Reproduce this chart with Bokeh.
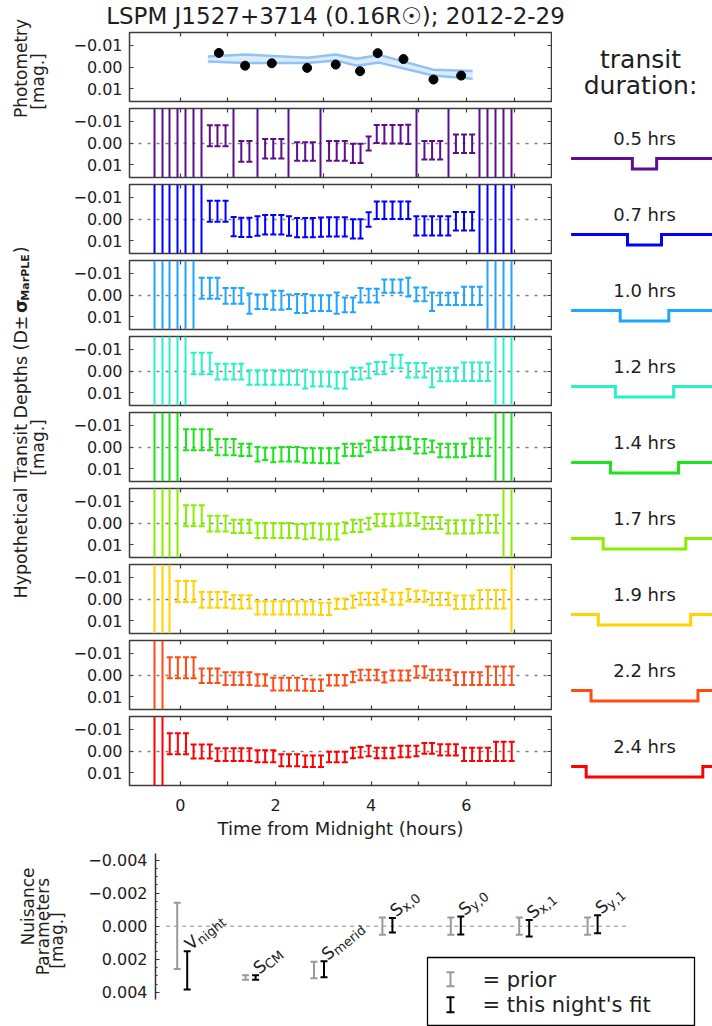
import math
from bokeh.plotting import figure
from bokeh.layouts import column, row
from bokeh.models import Range1d, LinearAxis, FixedTicker, CustomJSTickFormatter, Label
from bokeh.embed import file_html
from bokeh.resources import INLINE
from bokeh.core.properties import value

N = None
# ------------------------------------------------------------------ data
title_text = "LSPM J1527+3714 (0.16R\u2609); 2012-2-29"

phot_time = [0.81, 1.36, 1.92, 2.66, 3.26, 3.77, 4.14, 4.68, 5.31, 5.89]
phot_mag = [-0.0064, -0.0006, -0.0017, 0.0004, -0.0011, 0.0019, -0.0063, -0.0036, 0.0057, 0.0039]
band_time = [0.58, 1.36, 2.67, 3.26, 3.70, 4.17, 5.30, 6.13]
band_upper = [-0.0048, -0.0057, -0.0042, -0.0057, -0.0038, -0.0055, 0.0012, 0.0018]
band_lower = [-0.0025, -0.0018, -0.0018, -0.0030, -0.0006, -0.0020, 0.0039, 0.0054]

times = [-0.55, -0.38, -0.22, -0.05, 0.12, 0.28, 0.45, 0.62, 0.78, 0.95,
         1.12, 1.28, 1.45, 1.62, 1.78, 1.95, 2.12, 2.28, 2.45, 2.62,
         2.78, 2.95, 3.12, 3.28, 3.45, 3.62, 3.78, 3.95, 4.12, 4.28,
         4.45, 4.62, 4.78, 4.95, 5.12, 5.28, 5.45, 5.62, 5.78, 5.95,
         6.12, 6.28, 6.45, 6.62, 6.78, 6.95]

durations = [0.5, 0.7, 1.0, 1.2, 1.4, 1.7, 1.9, 2.2, 2.4]
colors = ["#5c0e8c", "#0000ff", "#1ea5ff", "#28f0c8", "#19e619",
          "#88ee00", "#ffd200", "#ff4b14", "#ff0000"]

# depth (None = unconstrained) and 1-sigma half-length, one pair per duration
depth_05 = [N, N, N, N, N, N, N, -0.0033, -0.0033, -0.0033,
            N, 0.0038, 0.0038, N, 0.0026, 0.0026, 0.0026, N, 0.0039, 0.0039,
            0.0039, N, 0.0036, 0.0036, 0.0036, 0.0047, 0.0047, 0.0002, -0.0041, -0.0040,
            -0.0040, -0.0040, -0.0039, N, 0.0033, 0.0033, 0.0033, N, 0.0003, 0.0003,
            0.0003, N, N, N, N, N]
err_05 = [N, N, N, N, N, N, N, 0.0048, 0.0048, 0.0048,
          N, 0.0047, 0.0047, N, 0.0044, 0.0044, 0.0044, N, 0.0042, 0.0042,
          0.0042, N, 0.0045, 0.0045, 0.0045, 0.0044, 0.0044, 0.0032, 0.0041, 0.0042,
          0.0042, 0.0042, 0.0044, N, 0.0042, 0.0042, 0.0042, N, 0.0042, 0.0042,
          0.0042, N, N, N, N, N]

depth_07 = [N, N, N, N, N, N, N, -0.0035, -0.0035, -0.0035,
            0.0035, 0.0038, 0.0038, 0.0032, 0.0026, 0.0026, 0.0026, 0.0032, 0.0039, 0.0039,
            0.0039, 0.0037, 0.0036, 0.0036, 0.0036, 0.0045, 0.0045, 0.0002, -0.0040, -0.0040,
            -0.0040, -0.0040, -0.0040, 0.0031, 0.0031, 0.0031, 0.0031, 0.0031, 0.0010, 0.0010,
            0.0010, N, N, N, N, N]
err_07 = [N, N, N, N, N, N, N, 0.0048, 0.0048, 0.0048,
          0.0044, 0.0044, 0.0044, 0.0044, 0.0044, 0.0044, 0.0044, 0.0044, 0.0044, 0.0044,
          0.0044, 0.0044, 0.0044, 0.0044, 0.0044, 0.0044, 0.0044, 0.0033, 0.0040, 0.0040,
          0.0040, 0.0040, 0.0040, 0.0044, 0.0044, 0.0044, 0.0044, 0.0044, 0.0042, 0.0042,
          0.0042, N, N, N, N, N]

depth_10 = [N, N, N, N, N, N, -0.0031, -0.0031, -0.0031, 0.0004,
            0.0004, 0.0004, 0.0039, 0.0031, 0.0031, 0.0024, 0.0024, 0.0031, 0.0039, 0.0039,
            0.0037, 0.0037, 0.0037, 0.0037, 0.0045, 0.0045, 0.0001, 0.0003, 0.0003, -0.0040,
            -0.0040, -0.0040, -0.0036, -0.0003, -0.0003, 0.0031, 0.0018, 0.0018, 0.0018, 0.0004,
            0.0004, 0.0004, N, N, N, N]
err_10 = [N, N, N, N, N, N, 0.0048, 0.0048, 0.0048, 0.0036,
          0.0036, 0.0036, 0.0046, 0.0033, 0.0033, 0.0043, 0.0043, 0.0033, 0.0043, 0.0043,
          0.0036, 0.0036, 0.0036, 0.0048, 0.0034, 0.0034, 0.0033, 0.0031, 0.0031, 0.0030,
          0.0030, 0.0030, 0.0043, 0.0031, 0.0031, 0.0042, 0.0028, 0.0028, 0.0028, 0.0042,
          0.0042, 0.0042, N, N, N, N]

depth_12 = [N, N, N, N, N, -0.0034, -0.0034, -0.0034, 0.0003, 0.0003,
            0.0003, 0.0003, 0.0030, 0.0030, 0.0030, 0.0030, 0.0030, 0.0030, 0.0030, 0.0037,
            0.0037, 0.0037, 0.0037, 0.0043, 0.0043, 0.0012, 0.0012, 0.0000, -0.0013, -0.0013,
            -0.0043, -0.0043, -0.0003, -0.0003, -0.0003, 0.0031, 0.0016, 0.0016, 0.0016, 0.0003,
            0.0003, 0.0003, 0.0003, N, N, N]
err_12 = [N, N, N, N, N, 0.0049, 0.0049, 0.0049, 0.0036, 0.0036,
          0.0036, 0.0036, 0.0033, 0.0033, 0.0033, 0.0033, 0.0033, 0.0033, 0.0033, 0.0043,
          0.0034, 0.0034, 0.0034, 0.0037, 0.0037, 0.0027, 0.0027, 0.0033, 0.0028, 0.0028,
          0.0031, 0.0031, 0.0033, 0.0033, 0.0033, 0.0043, 0.0031, 0.0031, 0.0031, 0.0042,
          0.0042, 0.0042, 0.0042, N, N, N]

depth_14 = [N, N, N, N, -0.0033, -0.0033, -0.0033, -0.0033, 0.0001, 0.0001,
            0.0001, 0.0013, 0.0013, 0.0033, 0.0031, 0.0036, 0.0033, 0.0033, 0.0033, 0.0039,
            0.0039, 0.0040, 0.0040, 0.0040, 0.0013, 0.0013, 0.0013, -0.0003, -0.0015, -0.0015,
            -0.0015, -0.0019, -0.0019, -0.0003, -0.0003, -0.0003, 0.0016, 0.0016, 0.0016, 0.0016,
            0.0001, 0.0001, 0.0001, N, N, N]
err_14 = [N, N, N, N, 0.0048, 0.0048, 0.0048, 0.0048, 0.0037, 0.0037,
          0.0037, 0.0028, 0.0028, 0.0033, 0.0028, 0.0033, 0.0033, 0.0033, 0.0033, 0.0033,
          0.0033, 0.0034, 0.0034, 0.0034, 0.0028, 0.0028, 0.0028, 0.0027, 0.0030, 0.0030,
          0.0030, 0.0028, 0.0028, 0.0033, 0.0033, 0.0027, 0.0031, 0.0031, 0.0031, 0.0031,
          0.0040, 0.0040, 0.0040, N, N, N]

depth_17 = [N, N, N, N, -0.0033, -0.0033, -0.0033, 0.0003, 0.0003, 0.0003,
            0.0015, 0.0015, 0.0015, 0.0034, 0.0034, 0.0034, 0.0034, 0.0034, 0.0037, 0.0040,
            0.0034, 0.0039, 0.0039, 0.0039, 0.0022, 0.0013, 0.0013, 0.0003, -0.0013, -0.0013,
            -0.0013, -0.0016, -0.0016, -0.0016, 0.0000, 0.0000, 0.0000, 0.0018, 0.0018, 0.0018,
            0.0018, 0.0004, 0.0004, 0.0004, N, N]
err_17 = [N, N, N, N, 0.0048, 0.0048, 0.0048, 0.0036, 0.0036, 0.0036,
          0.0030, 0.0030, 0.0030, 0.0034, 0.0034, 0.0034, 0.0034, 0.0034, 0.0031, 0.0034,
          0.0034, 0.0036, 0.0036, 0.0036, 0.0025, 0.0028, 0.0028, 0.0027, 0.0028, 0.0028,
          0.0028, 0.0028, 0.0028, 0.0028, 0.0027, 0.0027, 0.0027, 0.0030, 0.0030, 0.0030,
          0.0030, 0.0040, 0.0040, 0.0040, N, N]

depth_19 = [N, N, N, -0.0034, -0.0034, -0.0034, 0.0004, 0.0004, 0.0004, 0.0004,
            0.0013, 0.0013, 0.0013, 0.0040, 0.0040, 0.0040, 0.0040, 0.0040, 0.0040, 0.0040,
            0.0040, 0.0045, 0.0045, 0.0022, 0.0022, 0.0012, -0.0001, -0.0001, -0.0001, -0.0015,
            -0.0001, -0.0001, -0.0018, -0.0012, -0.0012, 0.0000, 0.0000, 0.0000, 0.0015, 0.0015,
            0.0015, 0.0001, 0.0001, 0.0001, 0.0001, N]
err_19 = [N, N, N, 0.0048, 0.0048, 0.0048, 0.0036, 0.0036, 0.0036, 0.0036,
          0.0030, 0.0030, 0.0030, 0.0030, 0.0030, 0.0030, 0.0030, 0.0030, 0.0030, 0.0030,
          0.0030, 0.0028, 0.0028, 0.0024, 0.0024, 0.0028, 0.0027, 0.0027, 0.0027, 0.0028,
          0.0027, 0.0027, 0.0028, 0.0025, 0.0025, 0.0028, 0.0028, 0.0028, 0.0031, 0.0031,
          0.0031, 0.0042, 0.0042, 0.0042, 0.0042, N]

depth_22 = [N, N, -0.0033, -0.0033, -0.0033, -0.0033, 0.0003, 0.0003, 0.0003, 0.0017,
            0.0017, 0.0017, 0.0017, 0.0023, 0.0023, 0.0041, 0.0041, 0.0041, 0.0041, 0.0045,
            0.0047, 0.0047, 0.0024, 0.0024, 0.0024, 0.0009, 0.0000, 0.0000, 0.0000, 0.0011,
            0.0002, 0.0002, 0.0002, -0.0014, -0.0014, 0.0000, 0.0000, 0.0000, 0.0017, 0.0017,
            0.0017, 0.0017, 0.0003, 0.0003, 0.0003, 0.0003]
err_22 = [N, N, 0.0048, 0.0048, 0.0048, 0.0048, 0.0033, 0.0033, 0.0033, 0.0029,
          0.0029, 0.0029, 0.0029, 0.0026, 0.0026, 0.0029, 0.0029, 0.0029, 0.0029, 0.0027,
          0.0026, 0.0026, 0.0024, 0.0024, 0.0024, 0.0024, 0.0024, 0.0024, 0.0024, 0.0023,
          0.0023, 0.0023, 0.0023, 0.0026, 0.0026, 0.0024, 0.0024, 0.0024, 0.0029, 0.0029,
          0.0029, 0.0029, 0.0042, 0.0042, 0.0042, 0.0042]

depth_24 = [N, N, -0.0033, -0.0033, -0.0033, 0.0002, 0.0002, 0.0002, 0.0017, 0.0017,
            0.0017, 0.0017, 0.0017, 0.0024, 0.0024, 0.0024, 0.0042, 0.0042, 0.0042, 0.0047,
            0.0047, 0.0047, 0.0027, 0.0027, 0.0027, 0.0009, 0.0006, 0.0000, 0.0009, 0.0009,
            0.0009, 0.0002, 0.0002, 0.0000, -0.0012, -0.0012, -0.0005, -0.0005, -0.0005, 0.0015,
            0.0015, 0.0015, 0.0015, 0.0002, 0.0002, 0.0002]
err_24 = [N, N, 0.0048, 0.0048, 0.0048, 0.0032, 0.0032, 0.0032, 0.0029, 0.0029,
          0.0029, 0.0029, 0.0029, 0.0027, 0.0027, 0.0027, 0.0027, 0.0027, 0.0027, 0.0026,
          0.0026, 0.0026, 0.0024, 0.0024, 0.0024, 0.0024, 0.0024, 0.0024, 0.0024, 0.0024,
          0.0024, 0.0026, 0.0026, 0.0024, 0.0024, 0.0024, 0.0026, 0.0026, 0.0026, 0.0030,
          0.0030, 0.0030, 0.0030, 0.0044, 0.0044, 0.0044]

all_depths = [depth_05, depth_07, depth_10, depth_12, depth_14, depth_17, depth_19, depth_22, depth_24]
all_errs = [err_05, err_07, err_10, err_12, err_14, err_17, err_19, err_22, err_24]

nuis_main = ["V", "S", "S", "S", "S", "S", "S"]
nuis_sub = ["night", "CM", "merid", "x,0", "y,0", "x,1", "y,1"]
prior_val = [0.00058, 0.0031, 0.00265, 0.0, 0.0, 0.0, 0.0]
prior_err = [0.0020, 0.00014, 0.0005, 0.00052, 0.00052, 0.00052, 0.00052]
fit_val = [0.00267, 0.0031, 0.0026, -0.00006, -0.00004, 0.00012, -0.00012]
fit_err = [0.00116, 0.00014, 0.00048, 0.00044, 0.00054, 0.0005, 0.00054]

# ------------------------------------------------------------------ style
FONT = "DejaVu Sans"
INK = "#1e1e1e"
FRAME = "#3c3c3c"
XMIN, XMAX = -1.064, 7.784
YLIM = 0.0157
PANEL_W = 482
ROW_H = 76


def bare(fig):
    fig.outline_line_color = None
    fig.grid.visible = False
    fig.background_fill_color = "white"
    fig.border_fill_color = "white"
    return fig


def text_fig(w, h, x0, x1, ytop, ybot):
    f = figure(width=w, height=h, x_range=Range1d(x0, x1), y_range=Range1d(ybot, ytop),
               output_backend="svg", toolbar_location=None,
               x_axis_location=None, y_axis_location=None, min_border=0)
    return bare(f)


def tick_style(ax):
    ax.axis_line_color = None
    ax.major_tick_in = 4
    ax.major_tick_out = 0
    ax.minor_tick_in = 4
    ax.minor_tick_out = 0
    ax.major_tick_line_color = FRAME
    ax.minor_tick_line_color = FRAME
    ax.major_tick_line_width = 1.2
    ax.minor_tick_line_width = 1.2
    ax.major_label_text_font = FONT
    ax.major_label_text_font_size = "16px"
    ax.major_label_text_color = INK


def hide_labels(ax):
    ax.formatter = CustomJSTickFormatter(code="return ''")
    ax.major_label_standoff = 0


YFMT = CustomJSTickFormatter(code="""
  if (Math.abs(tick) < 1e-9) { return '0.00'; }
  return (tick < 0 ? '\u2212' : '') + Math.abs(tick).toFixed(2);
""")


def make_panel(height, bottom_border, xlabels):
    p = figure(width=PANEL_W, height=height, x_range=Range1d(XMIN, XMAX),
               y_range=Range1d(YLIM, -YLIM), output_backend="svg", toolbar_location=None,
               x_axis_location=None, y_axis_location=None,
               min_border_left=51, min_border_right=1, min_border_top=1,
               min_border_bottom=bottom_border)
    p.grid.visible = False
    p.outline_line_color = FRAME
    p.outline_line_width = 1.5
    p.background_fill_color = "white"
    p.border_fill_color = "white"
    for loc in ("left", "right"):
        ax = LinearAxis(ticker=FixedTicker(ticks=[-0.01, 0.0, 0.01]))
        tick_style(ax)
        if loc == "left":
            ax.formatter = YFMT
            ax.major_label_standoff = 7
        else:
            hide_labels(ax)
        p.add_layout(ax, loc)
    for loc in ("below", "above"):
        ax = LinearAxis(ticker=FixedTicker(ticks=[0, 2, 4, 6], minor_ticks=[1, 3, 5, 7]))
        tick_style(ax)
        if loc == "below" and xlabels:
            ax.major_label_standoff = 13
            ax.axis_label = "Time from Midnight (hours)"
            ax.axis_label_text_font = FONT
            ax.axis_label_text_font_size = "18px"
            ax.axis_label_text_font_style = "normal"
            ax.axis_label_text_color = INK
            ax.axis_label_standoff = 4
        else:
            hide_labels(ax)
        p.add_layout(ax, loc)
    return p


# ------------------------------------------------------------------ title (page origin at 0,0)
title_fig = text_fig(642, 31, 70, 712, 0, 31)
title_fig.text(x=[335], y=[15], text=[title_text], text_align="center",
               text_baseline="middle", text_font=value(FONT), text_font_size="23px",
               text_color=INK)

# ------------------------------------------------------------------ photometry panel
panels = []
ph = make_panel(ROW_H, 6, False)
ph.varea(x=band_time, y1=band_upper, y2=band_lower, fill_color="#dcecfd", fill_alpha=1.0)
ph.line(x=band_time, y=band_upper, line_color="#8fc3f7", line_width=2.5)
ph.line(x=band_time, y=band_lower, line_color="#8fc3f7", line_width=2.5)
ph.scatter(x=phot_time, y=phot_mag, size=9, marker="circle", fill_color="black", line_color="black")
panels.append(ph)

# ------------------------------------------------------------------ transit panels
for i, (dep, err, col) in enumerate(zip(all_depths, all_errs, colors)):
    last = i == len(all_depths) - 1
    p = make_panel(ROW_H + (59 if last else 0), 65 if last else 6, last)
    p.hspan(y=[0], line_color="#808080", line_dash="3 6", line_width=1.3)
    bx = [t for t, d in zip(times, dep) if d is not None]
    lo = [d - e for d, e in zip(dep, err) if d is not None]
    hi = [d + e for d, e in zip(dep, err) if d is not None]
    free = [t for t, d in zip(times, dep) if d is None]
    p.segment(x0=bx, y0=lo, x1=bx, y1=hi, line_color=col, line_width=2)
    p.scatter(x=bx + bx, y=lo + hi, marker="dash", size=6, line_color=col, line_width=2)
    if free:
        p.vspan(x=free, line_color=col, line_width=2)
    panels.append(p)

# ------------------------------------------------------------------ left labels (page coords)
left = text_fig(70, 850, 0, 70, 0, 850)
rot = math.pi / 2
left.text(x=[20.5], y=[68], text=["Photometry"], angle=rot, text_align="center",
          text_baseline="middle", text_font=value(FONT), text_font_size="17px", text_color=INK)
left.text(x=[37.5], y=[81], text=["[mag.]"], angle=rot, text_align="center",
          text_baseline="middle", text_font=value(FONT), text_font_size="17px", text_color=INK)
# Hypothetical Transit Depths (D±σ_MarPLE) composed bottom-to-top
FS = 17.5
y_start = 598.0
w1 = 16.32 * FS
left.text(x=[20.5], y=[y_start], text=["Hypothetical Transit Depths (D\u00b1"], angle=rot,
          text_align="left", text_baseline="middle", text_font=value(FONT),
          text_font_size="%.1fpx" % FS, text_color=INK)
left.text(x=[20.5], y=[y_start - w1], text=["\u03c3"], angle=rot, text_align="left",
          text_baseline="middle", text_font=value(FONT), text_font_size="%.1fpx" % FS,
          text_font_style="bold", text_color=INK)
w2 = 0.70 * FS
left.text(x=[25.0], y=[y_start - w1 - w2], text=["MarPLE"], angle=rot, text_align="left",
          text_baseline="middle", text_font=value(FONT), text_font_size="11px",
          text_font_style="bold", text_color=INK)
w3 = 4.3 * 11
left.text(x=[20.5], y=[y_start - w1 - w2 - w3], text=[")"], angle=rot, text_align="left",
          text_baseline="middle", text_font=value(FONT), text_font_size="%.1fpx" % FS,
          text_color=INK)
left.text(x=[37.5], y=[447], text=["[mag.]"], angle=rot, text_align="center",
          text_baseline="middle", text_font=value(FONT), text_font_size="17px", text_color=INK)

# ------------------------------------------------------------------ right column
right_figs = []
head = text_fig(160, ROW_H, 552, 712, 31, 31 + ROW_H)
head.text(x=[640, 640], y=[59, 85], text=["transit", "duration:"], text_align="center",
          text_baseline="middle", text_font=value(FONT), text_font_size="25px", text_color=INK)
right_figs.append(head)
ICON_PX = 10.5
for d, col in zip(durations, colors):
    f = figure(width=160, height=ROW_H, x_range=Range1d((552 - 644) / 48.6, (712 - 644) / 48.6),
               y_range=Range1d(-(ROW_H - 51) / ICON_PX, 51 / ICON_PX),
               output_backend="svg", toolbar_location=None,
               x_axis_location=None, y_axis_location=None, min_border=0)
    bare(f)
    f.line(x=[-1.51, -d / 2, -d / 2, d / 2, d / 2, 1.6], y=[0, 0, -1, -1, 0, 0],
           line_color=col, line_width=3, line_join="miter")
    f.text(x=[0], y=[(51 - 30.5) / ICON_PX], text=["%.1f hrs" % d], text_align="center",
           text_baseline="middle", text_font=value(FONT), text_font_size="18px", text_color=INK)
    right_figs.append(f)

top_block = row(left, column(title_fig, row(column(panels), column(right_figs))))

# ------------------------------------------------------------------ nuisance panel
# main ranges are page pixels (isotropic, for rotated labels and the legend box);
# the data are drawn on extra ranges: parameter index (x) and magnitude (y)
NX0, NDX = 181.7, 68.4
NY0, NDY = 925.7, 16550.0


def nx(px):
    return (px - NX0) / NDX


def ny(py):
    return (py - NY0) / NDY


nleft = text_fig(83, 176, 0, 83, 850, 1026)
nleft.text(x=[27, 42, 56], y=[906, 926, 940], text=["Nuisance", "Parameters", "[mag.]"],
           angle=rot, text_align="center", text_baseline="middle", text_font=value(FONT),
           text_font_size="17px", text_color=INK)

nui = figure(width=629, height=176, x_range=Range1d(155, 712), y_range=Range1d(1026, 850),
             output_backend="svg", toolbar_location=None,
             x_axis_location=None, y_axis_location=None,
             min_border_left=72, min_border_right=0, min_border_top=0, min_border_bottom=0)
bare(nui)
nui.extra_x_ranges = {"idx": Range1d(nx(155), nx(712))}
nui.extra_y_ranges = {"mag": Range1d(ny(1026), ny(850))}
D = dict(x_range_name="idx", y_range_name="mag")

yax = LinearAxis(y_range_name="mag", ticker=FixedTicker(
    ticks=[-0.004, -0.002, 0.0, 0.002, 0.004],
    minor_ticks=[-0.0035, -0.003, -0.0025, -0.0015, -0.001, -0.0005,
                 0.0005, 0.001, 0.0015, 0.0025, 0.003, 0.0035]))
yax.bounds = (-0.0044, 0.0044)
yax.formatter = CustomJSTickFormatter(code="""
  if (Math.abs(tick) < 1e-9) { return '0.000'; }
  return (tick < 0 ? '\u2212' : '') + Math.abs(tick).toFixed(3);
""")
yax.axis_line_color = "#333333"
yax.axis_line_width = 1.5
yax.major_tick_in = 4
yax.major_tick_out = 0
yax.minor_tick_in = 2
yax.minor_tick_out = 0
yax.major_tick_line_color = "#333333"
yax.minor_tick_line_color = "#333333"
yax.major_label_standoff = 8
yax.major_label_text_font = FONT
yax.major_label_text_font_size = "16px"
yax.major_label_text_color = INK
nui.add_layout(yax, "left")

idx = list(range(len(nuis_main)))
nui.segment(x0=[nx(165.7)], y0=[0], x1=[nx(630)], y1=[0], line_color="#b0b0b0",
            line_dash="4 4", line_width=1.5, **D)
OFF = 5.0 / NDX
px_ = [i - OFF for i in idx]
fx_ = [i + OFF for i in idx]
plo = [v - e for v, e in zip(prior_val, prior_err)]
phi = [v + e for v, e in zip(prior_val, prior_err)]
flo = [v - e for v, e in zip(fit_val, fit_err)]
fhi = [v + e for v, e in zip(fit_val, fit_err)]
nui.segment(x0=px_, y0=plo, x1=px_, y1=phi, line_color="#9a9a9a", line_width=2, **D)
nui.scatter(x=px_ + px_, y=plo + phi, marker="dash", size=7, line_color="#9a9a9a",
            line_width=2, **D)
nui.segment(x0=fx_, y0=flo, x1=fx_, y1=fhi, line_color="black", line_width=2, **D)
nui.scatter(x=fx_ + fx_, y=flo + fhi, marker="dash", size=7, line_color="black",
            line_width=2, **D)

# rotated parameter names (Label annotations), anchored just above each fitted bar
a = math.radians(40)
ca, sa = math.cos(a), math.sin(a)
lab_px = [NX0 + NDX * x for x in fx_]
lab_py = [NY0 + NDY * y - 5 for y in flo]
main_w = {"V": 0.684 * 17, "S": 0.635 * 17}
for x0, y0, m, s in zip(lab_px, lab_py, nuis_main, nuis_sub):
    nui.add_layout(Label(x=x0, y=y0, x_units="data", y_units="data", text=m,
                         angle=a, angle_units="rad", text_align="left",
                         text_baseline="alphabetic", text_font=FONT,
                         text_font_size="17px", text_color=INK))
    sx0 = x0 + main_w[m] * ca + 4 * sa
    sy0 = y0 - main_w[m] * sa + 4 * ca
    nui.add_layout(Label(x=sx0, y=sy0, x_units="data", y_units="data", text=s,
                         angle=a, angle_units="rad", text_align="left",
                         text_baseline="alphabetic", text_font=FONT,
                         text_font_size="13px", text_color=INK))

# legend box (page-pixel coords)
nui.quad(left=[427], right=[694], top=[957], bottom=[1025],
         fill_color="white", line_color="black", line_width=1.3)
nui.segment(x0=[450], y0=[971.7], x1=[450], y1=[985.7], line_color="#9a9a9a", line_width=2)
nui.scatter(x=[450, 450], y=[971.7, 985.7], marker="dash", size=8,
            line_color="#9a9a9a", line_width=2)
nui.segment(x0=[450], y0=[996.7], x1=[450], y1=[1011.7], line_color="black", line_width=2)
nui.scatter(x=[450, 450], y=[996.7, 1011.7], marker="dash", size=8,
            line_color="black", line_width=2)
nui.text(x=[482, 482], y=[979, 1004], text=["= prior", "= this night's fit"],
         text_align="left", text_baseline="middle", text_font=value(FONT),
         text_font_size="21px", text_color=INK)

bottom_row = row(nleft, nui)

layout = column(top_block, bottom_row)
open("out.html", "w").write(file_html(layout, INLINE))
